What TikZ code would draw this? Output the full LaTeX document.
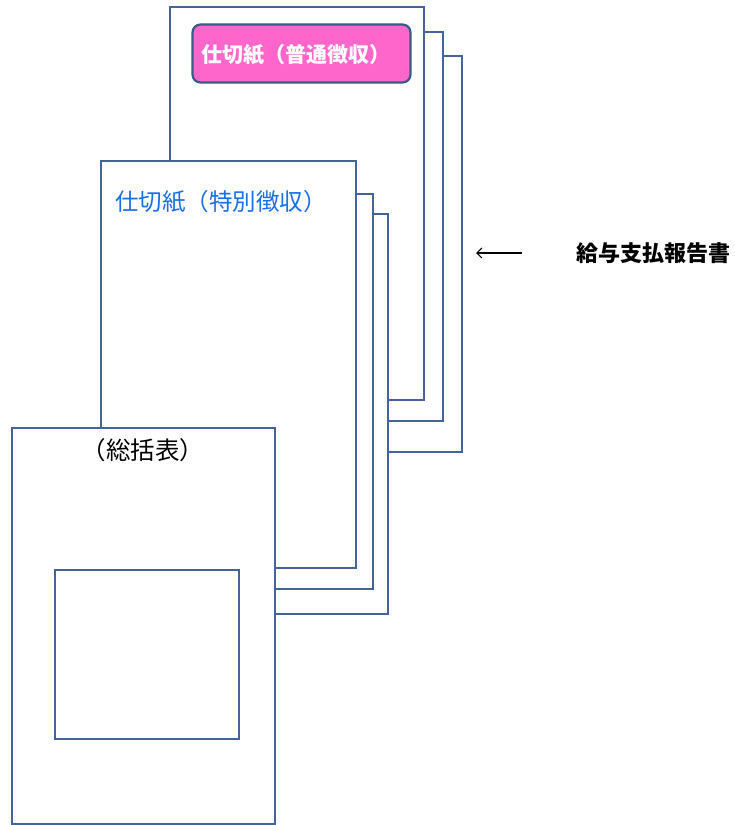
\documentclass[tikz,border=0pt]{standalone}
\usepackage{fontspec}
\newfontfamily\jp{Noto Sans CJK JP}
\usetikzlibrary{arrows.meta}
\definecolor{pageline}{HTML}{44649A}
\definecolor{pinkfill}{HTML}{FF66CC}
\definecolor{boxline}{HTML}{3A5A88}
\definecolor{bluetext}{HTML}{1A6FE8}
\tikzset{
  page/.style={draw=pageline, line width=1.2pt, fill=white},
  lbl/.style={inner sep=0pt, font=\jp},
}
\begin{document}
\begin{tikzpicture}[x=1pt,y=-1pt]
\useasboundingbox (0,0) rectangle (734,825);
% top group
\draw[page] (210,56) rectangle (462,452);
\draw[page] (190,32) rectangle (443,421);
\draw[page] (170,7) rectangle (424,400);
\node[draw=boxline, line width=2.2pt, fill=pinkfill, rounded corners=8pt,
      minimum width=218pt, minimum height=58pt, inner sep=0pt] (pink) at (301.5,53.5) {};
\node[lbl, text=white] (pinktext) at (296,55) {\fontsize{21}{25}\selectfont\bfseries 仕切紙（普通徴収）};
% middle group
\draw[page] (130,214) rectangle (388,614);
\draw[page] (115,194) rectangle (373,589);
\draw[page] (101,161) rectangle (356,568);
\node[lbl, text=bluetext] (midtext) at (221,202) {\fontsize{23.5}{28}\selectfont 仕切紙（特別徴収）};
% front group
\draw[page] (12,428) rectangle (275,824);
\draw[page] (55,570) rectangle (239,739);
\node[lbl] (sumtext) at (143,450) {\fontsize{24.5}{29}\selectfont （総括表）};
% label and arrow
\node[lbl, anchor=west] (report) at (576,253) {\fontsize{22}{26}\selectfont\bfseries 給与支払報告書};
\coordinate (atail) at (522,253);
\coordinate (ahead) at (476,253);
\draw[line width=1.2pt, -{Straight Barb[length=5pt,width=10pt]}] (atail) -- (ahead);
\end{tikzpicture}
\end{document}
